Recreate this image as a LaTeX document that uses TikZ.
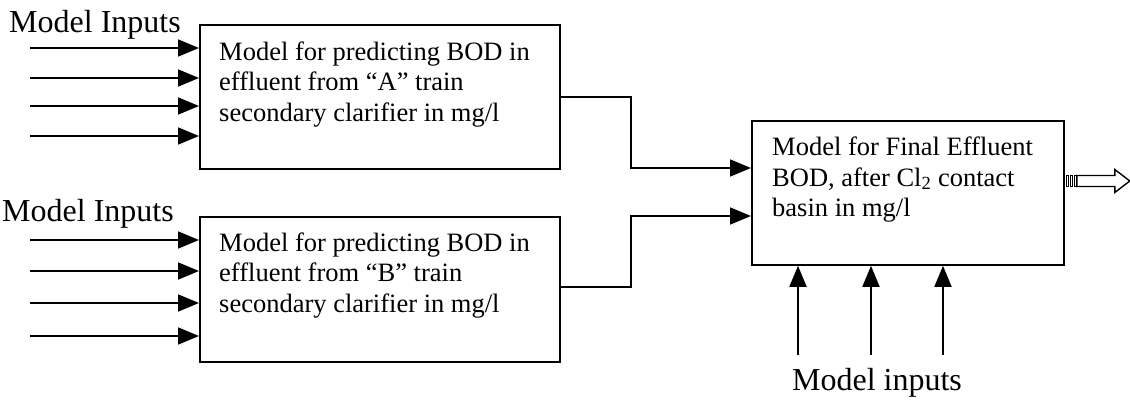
\documentclass[tikz,border=0pt]{standalone}
\usepackage{fontspec}
\setmainfont{Liberation Serif}
\usetikzlibrary{arrows.meta,calc}
\begin{document}
\begin{tikzpicture}[x=1pt,y=-1pt,
  box/.style={draw, line width=1.8pt, inner sep=0pt, anchor=north west, minimum width=#1},
  boxtext/.style={inner sep=0pt, anchor=north west, align=left, font=\fontsize{26.5}{30.5}\selectfont},
  lbl/.style={inner sep=0pt, font=\fontsize{32}{36}\selectfont},
  conn/.style={line width=1.8pt, -{Triangle[length=21pt,width=17pt]}},
  wire/.style={line width=1.8pt}]
\useasboundingbox (0,0) rectangle (1130,401);
% boxes
\node[box=360pt, minimum height=144pt] (boxA) at (199,24) {};
\node[box=360pt, minimum height=145pt] (boxB) at (199,216) {};
\node[box=312pt, minimum height=144pt] (boxF) at (751,120) {};
% box texts
\node[boxtext] (tA) at (219,41.6) {Model for predicting BOD in\\effluent from “A” train\\secondary clarifier in mg/l};
\node[boxtext] (tB) at (219,232.6) {Model for predicting BOD in\\effluent from “B” train\\secondary clarifier in mg/l};
\node[boxtext] (tF) at (772,136.8) {Model for Final Effluent\\BOD, after Cl\textsubscript{2} contact\\basin in mg/l};
% labels
\node[lbl, anchor=base west] (lA) at (9,33) {Model Inputs};
\node[lbl, anchor=base west] (lB) at (2,221) {Model Inputs};
\node[lbl, anchor=base] (lF) at (877,390) {Model inputs};
% inputs to A and B
\foreach \y [count=\i] in {48,78,106,136} {
  \coordinate (a\i) at (30,\y);
  \draw[conn] (a\i) -- (a\i -| boxA.west);
}
\foreach \y [count=\i] in {240,271,303,336} {
  \coordinate (b\i) at (30,\y);
  \draw[conn] (b\i) -- (b\i -| boxB.west);
}
% bottom inputs to F
\foreach \x [count=\i] in {798,871,943} {
  \coordinate (f\i) at (\x,355);
  \draw[conn] (f\i) -- (f\i |- boxF.south);
}
% connectors A,B -> F
\coordinate (ja) at (631,97);
\coordinate (jb) at (631,287);
\draw[conn] (ja -| boxA.east) -- (ja) -- (631,168) -- (boxF.west |- {(0,168)});
\draw[conn] (jb -| boxB.east) -- (jb) -- (631,216) -- (boxF.west |- {(0,216)});
% output hollow arrow
\coordinate (o) at (boxF.east |- {(0,181)});
\draw[line width=1.4pt] ($(o)+(12,-5.5)$) -- ++(38,0) -- ++(0,-6) -- ($(o)+(65,0)$) -- ($(o)+(50,11.5)$) -- ++(0,-6) -- ($(o)+(12,5.5)$) -- cycle;
\foreach \dx in {1.5,5.5,9.5} {
  \draw[line width=1.2pt] ($(o)+(\dx,-5.5)$) rectangle ++(2.2,11);
}
\end{tikzpicture}
\end{document}
